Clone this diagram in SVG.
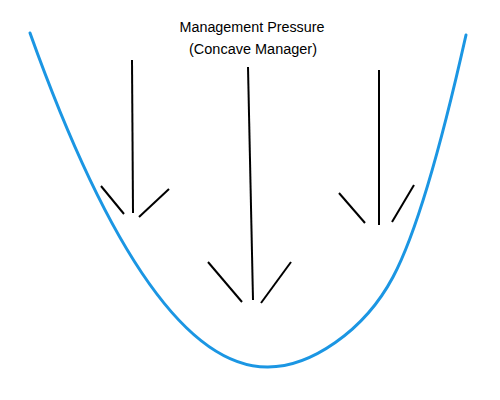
<svg xmlns="http://www.w3.org/2000/svg" width="500" height="400" viewBox="0 0 500 400">
<style>
.curve{fill:none;stroke:#1b96e3;stroke-width:3;stroke-linecap:round;stroke-linejoin:round}
.ar{stroke:#000;stroke-width:2;fill:none;stroke-linecap:butt}
.lbl{font-family:"Liberation Sans",Arial,sans-serif;font-size:14px;fill:#000;text-anchor:middle}
</style>
<rect width="500" height="400" fill="#fff"/>
<g id="curve">
<path class="curve" d="M30,33 Q150,368 268,367 C310,367 363.9,331.7 393,277 C421.2,224.1 448.5,113.1 466,35"/>
</g>
<g id="label">
<text class="lbl" x="252" y="32" textLength="145" lengthAdjust="spacingAndGlyphs">Management Pressure</text>
<text class="lbl" x="253" y="54" textLength="128" lengthAdjust="spacingAndGlyphs">(Concave Manager)</text>
</g>
<g id="connectors">
<g id="arrow1">
<line class="ar" x1="132" y1="60" x2="133" y2="213"/>
<line class="ar" x1="101" y1="186" x2="124" y2="214"/>
<line class="ar" x1="139" y1="217" x2="169" y2="189"/>
</g>
<g id="arrow2">
<line class="ar" x1="248" y1="67" x2="253" y2="300"/>
<line class="ar" x1="208" y1="262" x2="242" y2="302"/>
<line class="ar" x1="261" y1="303" x2="291" y2="262"/>
</g>
<g id="arrow3">
<line class="ar" x1="379" y1="70" x2="379" y2="225"/>
<line class="ar" x1="339" y1="193" x2="365" y2="223"/>
<line class="ar" x1="392" y1="222" x2="414" y2="185"/>
</g>
</g>
</svg>
